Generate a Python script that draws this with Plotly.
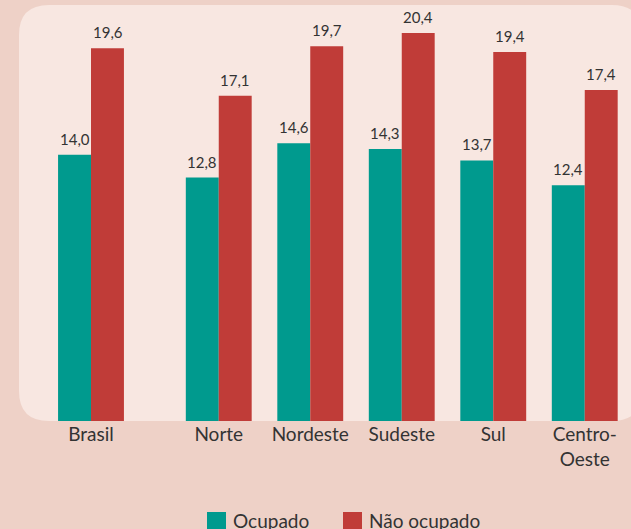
import plotly.graph_objects as go
from plotly.subplots import make_subplots

categories = ["Brasil", "Norte", "Nordeste", "Sudeste", "Sul", "Centro-<br>Oeste"]
ocupado = [14.0, 12.8, 14.6, 14.3, 13.7, 12.4]
nao_ocupado = [19.6, 17.1, 19.7, 20.4, 19.4, 17.4]
series_names = ["Ocupado", "Não ocupado"]

W, H = 631, 529
BOTTOM = 421  # pixel row of the bar baseline
TEAL = "#009a8e"
RED = "#c03c38"
OUTER = "#eed1c7"
PANEL = "#f8e7e1"
TXT = "#333333"
FONT = "Lato"


def px(x):
    return x / W


def py(y):
    return (BOTTOM - y) / BOTTOM


fig = make_subplots(rows=1, cols=2, shared_yaxes=True, horizontal_spacing=0)
annotations = []

# Brasil on its own axis, the regions on the second one
groups = [(categories[:1], ocupado[:1], nao_ocupado[:1], 1),
          (categories[1:], ocupado[1:], nao_ocupado[1:], 2)]
for cats, occ, nocc, col in groups:
    xref = "x" if col == 1 else "x2"
    for name, vals, color, shift in [(series_names[0], occ, TEAL, -16.5),
                                     (series_names[1], nocc, RED, 16.5)]:
        fig.add_trace(go.Bar(
            x=cats, y=vals, name=name, marker_color=color, marker_line_width=0,
            showlegend=False
        ), row=1, col=col)
        # value labels sit a bit higher than plotly's own outside text
        for c, v in zip(cats, vals):
            annotations.append(dict(
                x=c, y=v, xref=xref, yref="y", text=f"{v:.1f}".replace(".", ","),
                showarrow=False, xshift=shift, yshift=5, yanchor="bottom",
                font=dict(size=15, color=TXT, family=FONT)))

# rounded panel behind the bars
x0, x1, y0, y1, r = 19, 642, 5, BOTTOM, 30
path = (f"M {px(x0 + r)},{py(y0)} L {px(x1 - r)},{py(y0)} "
        f"Q {px(x1)},{py(y0)} {px(x1)},{py(y0 + r)} L {px(x1)},{py(y1 - r)} "
        f"Q {px(x1)},{py(y1)} {px(x1 - r)},{py(y1)} L {px(x0 + r)},{py(y1)} "
        f"Q {px(x0)},{py(y1)} {px(x0)},{py(y1 - r)} L {px(x0)},{py(y0 + r)} "
        f"Q {px(x0)},{py(y0)} {px(x0 + r)},{py(y0)} Z")
shapes = [dict(type="path", path=path, xref="paper", yref="paper",
               fillcolor=PANEL, line_width=0, layer="below")]

# hand made legend with large squares
for name, color, lx in [(series_names[0], TEAL, 207), (series_names[1], RED, 343)]:
    shapes.append(dict(type="rect", xref="paper", yref="paper",
                       x0=px(lx), x1=px(lx + 19), y0=py(512), y1=py(531),
                       fillcolor=color, line_width=0))
    annotations.append(dict(text=name, xref="paper", yref="paper", x=px(lx + 24), y=py(520),
                            xanchor="left", yanchor="middle", showarrow=False,
                            font=dict(size=19, color=TXT, family=FONT)))

fig.update_layout(
    width=W, height=H,
    margin=dict(l=0, r=0, t=0, b=H - BOTTOM),
    paper_bgcolor=OUTER, plot_bgcolor="rgba(0,0,0,0)",
    barmode="group", bargap=0.28, bargroupgap=0,
    font=dict(family=FONT, color=TXT),
    shapes=shapes, annotations=annotations,
    showlegend=False,
)
fig.update_xaxes(showgrid=False, showline=False, zeroline=False, ticks="",
                 tickfont=dict(size=19, color=TXT, family=FONT))
fig.update_xaxes(domain=[px(45.25), px(136.75)], row=1, col=1)
fig.update_xaxes(domain=[px(173), px(630.5)], row=1, col=2)
fig.update_yaxes(range=[0, BOTTOM / 19.02], visible=False, showgrid=False, zeroline=False)

fig.write_html("out.html", config={"displayModeBar": False},
               post_script="document.body.style.margin='0';")
